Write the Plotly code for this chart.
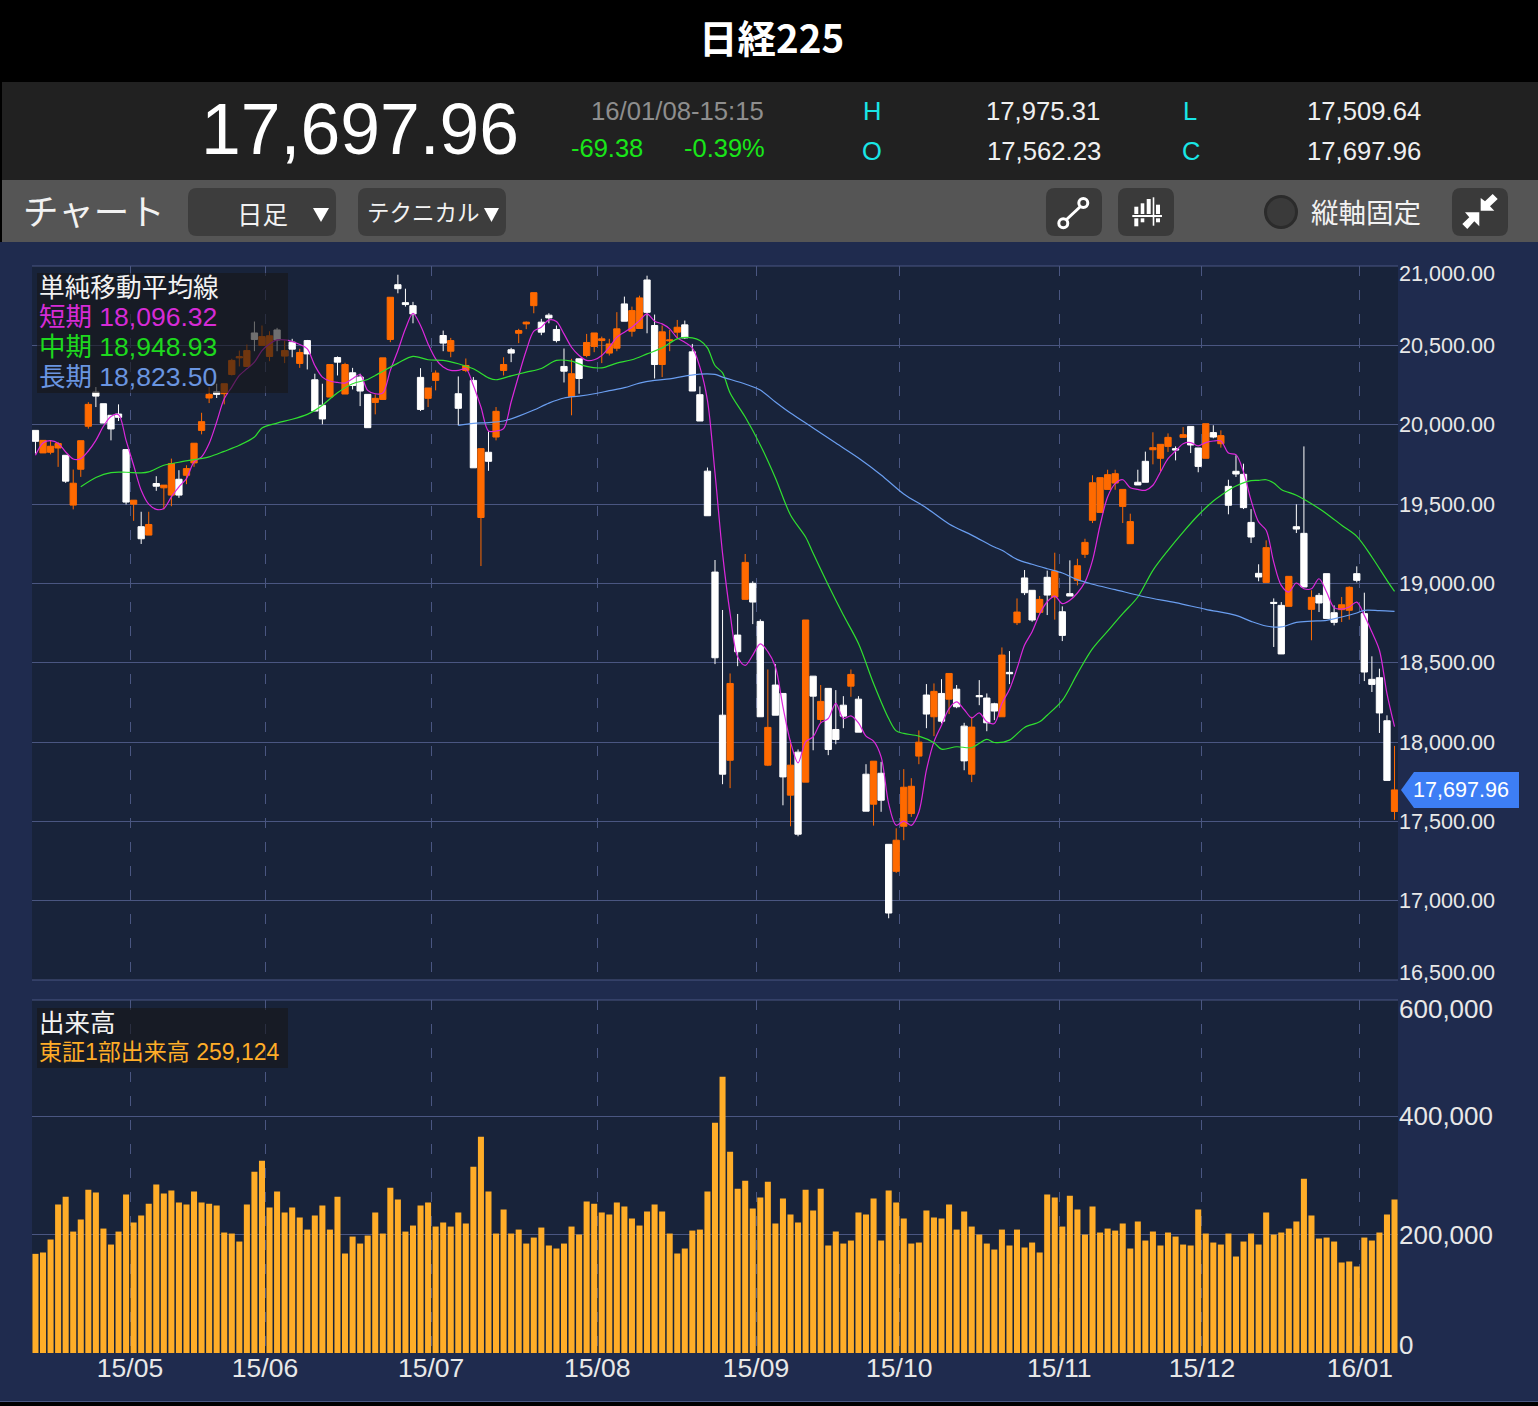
import plotly.graph_objects as go

# ---------- data ----------
opens = [19964,19822,19826,19853,19807,19493,19719,19990,20205,20132,
20059,20067,19843,19499,19357,19304,19629,19602,19556,19656,
19681,19759,19964,20168,20207,20195,20316,20421,20367,20578,
20499,20430,20597,20432,20520,20386,20530,20283,20122,20174,
20423,20193,20327,20300,20191,20140,20159,20537,20882,20769,
20750,20298,20166,20279,20562,20463,20195,20342,20279,19415,
19826,19922,20342,20472,20576,20635,20750,20646,20690,20600,
20367,20178,20415,20436,20493,20530,20451,20482,20761,20589,
20606,20912,20625,20379,20528,20583,20629,20459,20189,19707,
19071,18169,17885,18674,18899,19000,18760,17854,18359,18306,
17665,17936,17747,18415,18142,18338,18079,18232,18352,18270,
17797,17608,17803,17355,17185,17469,17549,17911,18296,18159,
18306,18270,18333,18100,17797,18293,18277,18241,18159,18439,
18752,19034,18956,18817,19038,18914,18821,18935,19019,19183,
19397,19447,19592,19632,19485,19250,19637,19769,19842,19788,
19863,19849,19920,19989,19853,19788,19950,19880,19611,19706,
19687,19384,19063,19006,18880,18861,18855,19357,19315,18836,
18924,19061,18815,18834,18830,19061,18809,18395,18405,18134,
17562.23]
highs = [19964,19901,19901,19891,19807,19717,19899,20142,20237,20132,
20059,20128,19843,19524,19451,19451,19675,19619,19786,19713,
19744,19883,20075,20237,20258,20258,20415,20467,20505,20650,
20625,20589,20610,20530,20541,20478,20534,20321,20258,20379,
20430,20390,20358,20321,20191,20191,20421,20803,20945,20857,
20774,20356,20231,20342,20593,20547,20304,20417,20300,19849,
19958,20111,20425,20484,20604,20650,20832,20667,20702,20625,
20480,20415,20415,20572,20578,20555,20541,20709,20807,20744,
20813,20939,20694,20625,20597,20660,20656,20509,20241,19730,
19147,18832,18432,18807,19185,19013,18773,18457,18491,18306,
18012,17953,18769,18415,18359,18338,18327,18289,18457,18289,
17860,17879,17875,17355,17456,17829,17772,18073,18365,18369,
18396,18432,18359,18121,18159,18390,18306,18247,18596,18573,
18905,19084,18956,18920,19080,19193,18855,19145,19155,19281,
19681,19666,19716,19716,19592,19439,19716,19830,19952,19876,
19945,19863,19985,19989,19853,20006,19996,19964,19653,19807,
19754,19468,19120,19271,18905,18882,19044,19498,19863,18956,
18939,19061,18861,18914,18981,19107,18941,18540,18462,18168,
17975.31]
lows = [19818,19822,19813,19734,19633,19466,19671,19975,20111,20010,
19901,20023,19497,19394,19248,19304,19583,19466,19486,19539,
19625,19734,19939,20136,20168,20128,20310,20367,20363,20463,
20499,20400,20463,20388,20425,20358,20348,20086,20002,20174,
20310,20193,20222,20117,19981,20065,20159,20520,20828,20744,
20639,20086,20111,20216,20463,20425,19996,20331,19728,19109,
19709,19901,20310,20394,20514,20602,20702,20564,20639,20518,
20266,20059,20195,20425,20457,20388,20436,20463,20652,20555,
20606,20576,20291,20300,20463,20541,20541,20212,20023,19426,
18491,17734,17709,18478,18899,18743,18159,17848,18169,17601,
17469,17406,17747,17948,18121,17917,17986,18087,18285,18062,
17564,17473,17560,16889,17175,17381,17528,17860,18087,18037,
18117,18176,18213,17822,17747,18232,18068,18138,18159,18365,
18737,18926,18758,18807,18800,18771,18636,18920,18987,19160,
19380,19447,19592,19590,19380,19250,19620,19637,19750,19708,
19828,19775,19920,19821,19700,19788,19914,19855,19435,19670,
19468,19254,19013,19006,18599,18555,18855,19317,18977,18641,
18819,18779,18735,18756,18771,19006,18384,18315,18057,17758,
17509.64]
closes = [19895,19901,19864,19881,19644,19631,19899,20128,20180,20010,
19973,20046,19512,19524,19281,19371,19612,19619,19755,19556,
19723,19883,20019,20191,20191,20258,20405,20428,20467,20537,
20555,20560,20534,20467,20476,20455,20446,20086,20036,20379,
20394,20379,20247,20212,19981,20166,20421,20803,20857,20757,
20698,20096,20231,20325,20514,20530,20103,20373,19728,19849,
19769,20084,20379,20451,20593,20646,20832,20583,20673,20530,
20337,20321,20291,20518,20578,20541,20509,20604,20652,20719,
20799,20708,20379,20585,20534,20614,20547,20212,20023,19426,
18531,17797,18369,18569,19132,18882,18159,18092,18169,17780,
17854,17419,18769,18289,18256,17953,18016,18163,18426,18062,
17564,17879,17633,16922,17381,17715,17721,17999,18176,18319,
18131,18432,18222,17881,18094,18285,18121,18195,18548,18430,
18819,18941,18769,18899,18926,19076,18672,18920,19111,19258,
19634,19666,19685,19691,19592,19389,19620,19637,19855,19876,
19920,19840,19937,19872,19737,20006,19922,19931,19492,19689,
19477,19292,19040,19225,18874,18555,19044,19342,18977,18912,
18876,18779,18754,18865,18975,19019,18441,18363,18183,17758,
17697.96]
volumes = [167400,169700,191600,250600,264000,205000,225300,275800,270800,210100,
183100,205000,267400,220200,232000,252200,284300,269100,274200,253900,
250600,272500,253900,252200,248900,203400,201700,188200,250600,306200,
324700,245500,272500,237100,245500,228700,208400,232000,248900,208400,
264000,168000,196600,184800,198300,237100,201700,279200,259000,205000,
215200,248900,253900,213500,220200,213500,237100,218500,314600,365200,
272500,201700,242100,201700,208400,184800,194900,211800,181500,176400,
184800,213500,200000,255600,252200,237100,233700,253900,247200,227000,
215200,238800,250600,238800,201700,168000,176400,206700,208400,272500,
388800,466300,339900,277500,291000,243800,262400,289300,218500,260700,
233700,220200,275800,240500,277500,181500,205100,184800,189900,237100,
233700,260700,189900,274200,253900,227000,184800,186500,240500,228700,
227000,250600,208400,238800,213500,200000,184800,174700,208400,181500,
208400,178100,186500,169700,267400,262400,213500,265700,242100,200000,
247200,203400,210100,206700,218500,176400,221900,189900,205100,181500,
203400,196600,183100,181500,242100,201700,186500,183100,201700,162900,
188200,201700,183100,237100,200000,203400,210100,221900,294400,232000,
193300,194900,188200,152800,154500,146100,194900,189900,203400,233700,
259124]
short_ma = [19807,19885,19899,19883,19828,19784,19786,19834,19901,19990,
20052,20063,19901,19744,19587,19499,19466,19472,19545,19608,
19660,19765,19797,19881,20017,20163,20237,20310,20352,20394,
20467,20509,20534,20534,20524,20505,20478,20373,20300,20275,
20266,20262,20289,20316,20216,20195,20199,20342,20467,20604,
20702,20625,20509,20415,20363,20342,20342,20352,20247,20111,
19960,19960,19975,20143,20310,20467,20589,20614,20660,20650,
20572,20488,20436,20405,20409,20436,20488,20551,20583,20614,
20656,20698,20652,20635,20604,20547,20520,20484,20363,20153,
19695,19189,18811,18537,18483,18548,18619,18569,18474,18222,
18001,17869,18001,18033,18121,18148,18243,18148,18165,18121,
18037,18005,17906,17612,17475,17501,17475,17559,17822,18001,
18106,18211,18253,18205,18152,18184,18127,18117,18243,18331,
18464,18611,18695,18807,18884,18920,18872,18893,18939,19008,
19145,19366,19544,19628,19653,19603,19592,19586,19618,19702,
19786,19834,19880,19887,19866,19887,19897,19897,19821,19811,
19702,19523,19387,19334,19134,18987,18945,19002,18966,18966,
19029,18945,18847,18838,18851,18882,18798,18693,18578,18305,
18096.32]
mid_days = [6,8,10,12,14,15,17,19,21,23,25,27,29,30,32,34,36,37,38,40,42,44,45,46,48,50,52,54,56,58,60,61,63,65,67,69,71,73,75,77,79,81,83,85,87,88,89,90,91,92,94,96,98,100,102,103,105,107,109,111,113,114,115,117,119,120,122,124,126,127,129,131,133,134,136,138,140,142,144,146,148,150,152,154,156,157,159,161,162,163,164,165,167,169,171,173,175,177,179,180]
mid_ma = [19608,19667,19698,19700,19696,19702,19744,19763,19780,19797,19832,19870,19922,19979,20010,20034,20065,20090,20122,20201,20258,20285,20310,20337,20388,20430,20409,20405,20384,20352,20295,20283,20308,20331,20354,20405,20400,20367,20358,20388,20409,20446,20484,20541,20547,20530,20484,20373,20326,20200,20048,19872,19664,19431,19292,19189,18989,18800,18621,18369,18148,18070,18054,18037,17995,17955,17970,17965,18016,17997,18012,18092,18127,18169,18262,18431,18588,18699,18809,18914,19082,19208,19323,19429,19519,19554,19613,19647,19649,19653,19632,19592,19555,19502,19439,19366,19296,19166,19019,18948.93]
long_days = [56,58,60,62,64,66,68,70,72,74,76,78,80,82,84,86,88,90,91,94,96,98,100,103,106,109,112,115,118,121,124,127,128,130,132,134,136,138,140,143,147,151,155,159,161,163,165,167,169,171,173,175,176,178,180]
long_ma = [19996,20008,20013,20023,20054,20092,20136,20168,20180,20195,20214,20233,20262,20279,20289,20306,20319,20317,20300,20256,20218,20143,20073,19979,19884,19790,19683,19563,19475,19374,19304,19229,19208,19151,19120,19092,19065,19023,18994,18960,18914,18878,18836,18798,18760,18731,18725,18754,18762,18767,18788,18813,18830,18828,18823.50]
month_labels = ["15/05","15/06","15/07","15/08","15/09","15/10","15/11","15/12","16/01"]
month_days = [12.52,30.4,52.4,74.4,95.43,114.4,135.6,154.5,175.4]
price_ticks = [21000,20500,20000,19500,19000,18500,18000,17500,17000,16500]
volume_ticks = [400000,200000]
days = list(range(len(opens)))

# ---------- helpers: page pixels to paper fractions ----------
W, H = 1538, 1406
FX = lambda p: p / W
FY = lambda p: 1 - p / H
LAT = "Liberation Sans, Noto Sans CJK JP, sans-serif"
CJK = "Noto Sans CJK JP, Liberation Sans, sans-serif"
ORANGE, WHITE = "#ff6a00", "#ffffff"
GRID = "#4a5681"
NAVY = "#1f2b4e"
PANEL = "#18233a"

shapes, notes = [], []

def rect(x0, y0, x1, y1, color, layer="below"):
    shapes.append(dict(type="rect", xref="paper", yref="paper", x0=FX(x0), x1=FX(x1),
                       y0=FY(y1), y1=FY(y0), fillcolor=color, line_width=0, layer=layer))

def poly(points, color=None, layer="above", line=None, close=True, width=0):
    d = "M" + " L".join(f"{FX(a):.5f},{FY(b):.5f}" for a, b in points) + (" Z" if close else "")
    shapes.append(dict(type="path", xref="paper", yref="paper", path=d, fillcolor=color,
                       line=dict(color=line or "rgba(0,0,0,0)", width=width), layer=layer))

def rrect(x0, y0, x1, y1, r, color, layer="below"):
    p = lambda a, b: f"{FX(a):.5f},{FY(b):.5f}"
    d = (f"M{p(x0+r,y0)} L{p(x1-r,y0)} Q{p(x1,y0)} {p(x1,y0+r)} L{p(x1,y1-r)} Q{p(x1,y1)} {p(x1-r,y1)} "
         f"L{p(x0+r,y1)} Q{p(x0,y1)} {p(x0,y1-r)} L{p(x0,y0+r)} Q{p(x0,y0)} {p(x0+r,y0)} Z")
    shapes.append(dict(type="path", xref="paper", yref="paper", path=d, fillcolor=color,
                       line_width=0, layer=layer))

def circle(cx, cy, r, fill, line=None, width=0, layer="above"):
    shapes.append(dict(type="circle", xref="paper", yref="paper", x0=FX(cx-r), x1=FX(cx+r),
                       y0=FY(cy+r), y1=FY(cy-r), fillcolor=fill,
                       line=dict(color=line or "rgba(0,0,0,0)", width=width), layer=layer))

def text(x, y, s, size, color="#ffffff", anchor="left", family=LAT, bold=False):
    notes.append(dict(xref="paper", yref="paper", x=FX(x), y=FY(y), text=f"<b>{s}</b>" if bold else s,
                      showarrow=False, xanchor=anchor, yanchor="middle", borderpad=0,
                      font=dict(size=size, color=color, family=family)))

# ---------- page chrome ----------
rect(0, 0, W, 82, "#000000")
rect(0, 82, W, 180, "#212121")
rect(0, 180, W, 242, "#555555")
rect(0, 82, 2, 242, "#000000")
rect(0, 242, W, 1401, NAVY)
rect(0, 1401, W, 1402, GRID)
rect(0, 1402, W, 1406, "#000000")
rect(32, 266, 1398, 980, PANEL)
rect(32, 1000, 1398, 1353, PANEL)
# panel edge rules that the axes leave out
rect(32, 265.5, 1398, 266.5, GRID)
rect(32, 979.5, 1398, 980.5, GRID)
rect(32, 999.5, 1398, 1000.5, GRID)

text(771, 36, "日経225", 38.5, anchor="center", family=CJK, bold=True)
text(360, 129, "17,697.96", 71.5, anchor="center")
text(677, 111, "16/01/08-15:15", 25.7, "#8e8e8e", "center")
text(607, 148, "-69.38", 25.5, "#19e619", "center")
text(724, 148, "-0.39%", 25.5, "#19e619", "center")
for x, y, s in [(872, 111, "H"), (872, 151, "O"), (1190, 111, "L"), (1191, 151, "C")]:
    text(x, y, s, 25.5, "#19e6e6", "center")
for x, y, s in [(1101, 111, "17,975.31"), (1102, 151, "17,562.23"), (1422, 111, "17,509.64"), (1422, 151, "17,697.96")]:
    text(x, y, s, 25.7, "#f0f0f0", "right")

text(22, 209, "チャート", 35.5, "#f2f2f2", family=CJK)
rrect(188, 188, 336, 236, 9, "#3d3d3d")
rrect(358, 188, 506, 236, 9, "#3d3d3d")
for x0 in (1046, 1118, 1452):
    rrect(x0, 188, x0 + 56, 236, 9, "#3a3a3a")
text(262, 213, "日足", 25.5, "#f2f2f2", "center", family=CJK)
text(423, 211, "テクニカル", 22.5, "#f2f2f2", "center", family=CJK)
poly([(313, 208), (329, 208), (321, 222)], "#ffffff")
poly([(484, 208), (499, 208), (491.5, 222)], "#ffffff")
# line tool icon
poly([(1066, 220), (1081, 206)], line="#ffffff", close=False, width=3)
circle(1063.3, 223.3, 4.5, "#3a3a3a", "#ffffff", 3)
circle(1083.3, 203, 4.5, "#3a3a3a", "#ffffff", 3)
# indicator icon
for x0, y0, x1, y1 in [(1134.3, 206.7, 1138.3, 214), (1140.7, 203.3, 1144.3, 214), (1146.7, 199, 1150.7, 214),
                       (1152.7, 197.3, 1154.3, 225.7), (1156, 204.7, 1160, 214), (1132.3, 215, 1162, 217),
                       (1134.3, 218.3, 1138.3, 226.3), (1140.7, 218.3, 1144.3, 222.3), (1156, 218.3, 1160, 222.3)]:
    rect(x0, y0, x1, y1, "#ffffff", "above")
circle(1281, 212, 15.5, "#3a3a3a", "#2b2b2b", 3)
text(1310, 211, "縦軸固定", 27.5, "#f2f2f2", family=CJK)
# collapse icon
poly([(1480.7, 198), (1485, 201.3), (1492.7, 194), (1497.7, 199), (1490, 206.3), (1494.3, 210.7), (1480.7, 210.7)], "#ffffff")
poly([(1465, 212.3), (1469.3, 217.3), (1462.3, 224), (1467.3, 229), (1474.3, 221.3), (1479.3, 226.3), (1479.3, 212.3)], "#ffffff")

# price and volume end labels sit inside their panels
text(1398, 274, "21,000.00", 21.6, "#e8e8e8")
text(1398, 972, "16,500.00", 21.6, "#e8e8e8")
text(1398, 1009, "600,000", 26, "#e8e8e8")
text(1398, 1345, "0", 26, "#e8e8e8")

# indicator legends, drawn over the candles
rect(37, 273, 288, 393, "rgba(22,22,24,0.62)", "above")
rect(37, 1008, 288, 1068, "rgba(22,22,24,0.62)", "above")
text(38, 285, "単純移動平均線", 25.7, "#f2f2f2", family=CJK)
text(38, 317, "短期 18,096.32", 26.5, "#d62bd6")
text(38, 347, "中期 18,948.93", 26.5, "#1ed81e")
text(38, 377, "長期 18,823.50", 26.5, "#6a95e0")
text(38, 1020, "出来高", 25.5, "#f2f2f2", family=CJK)
text(38, 1052, "東証1部出来高 259,124", 23, "#ffad28")

# last price flag
poly([(1401, 790), (1414, 772), (1519, 772), (1519, 808), (1414, 808)], "#3d7ef5")
text(1461, 790, "17,697.96", 21.6, "#ffffff", "center")

# ---------- marks ----------
fig = go.Figure()
fig.add_trace(go.Candlestick(
    x=days, open=opens, high=highs, low=lows, close=closes, whiskerwidth=0, showlegend=False,
    increasing=dict(line=dict(color=ORANGE, width=1), fillcolor=ORANGE),
    decreasing=dict(line=dict(color=WHITE, width=1), fillcolor=WHITE),
    xaxis="x", yaxis="y"))
for name, xs, ys, color in [("短期", days, short_ma, "#dc28dc"),
                            ("中期", mid_days, mid_ma, "#30e030"),
                            ("長期", long_days, long_ma, "#6a9ef0")]:
    fig.add_trace(go.Scatter(x=xs, y=ys, mode="lines", name=name, showlegend=False,
                             line=dict(color=color, width=1.2, shape="spline", smoothing=0.9),
                             xaxis="x", yaxis="y"))
fig.add_trace(go.Bar(x=days, y=volumes, marker=dict(color="#ffad28", line_width=0), showlegend=False,
                     xaxis="x2", yaxis="y2"))

# ---------- layout ----------
x_dom = [FX(32), FX(1398)]
x_rng = [-0.46, 180.46]
common_x = dict(domain=x_dom, range=x_rng, tickmode="array", tickvals=month_days, showline=False,
                showgrid=True, gridcolor=GRID, griddash="10px,14px", gridwidth=1, zeroline=False, ticks="")
fig.update_layout(
    width=W, height=H, autosize=False, margin=dict(l=0, r=0, t=0, b=0), paper_bgcolor=NAVY,
    plot_bgcolor=PANEL, shapes=shapes, annotations=notes, bargap=0.2, boxgap=0.17, boxgroupgap=0, showlegend=False,
    hovermode=False,
    xaxis=dict(**common_x, showticklabels=False, anchor="y", rangeslider=dict(visible=False)),
    xaxis2=dict(**common_x, ticktext=month_labels, showticklabels=True, anchor="y2",
                tickfont=dict(size=26.5, color="#e8e8e8", family=LAT), ticklabelstandoff=-4),
    yaxis=dict(domain=[FY(980), FY(266)], range=[16500, 21000], anchor="x", side="right", tickmode="array",
               tickvals=price_ticks, ticktext=[""] + [f"{v:,}.00" for v in price_ticks[1:-1]] + [""],
               tickfont=dict(size=21.6, color="#e8e8e8", family=LAT), gridcolor=GRID, gridwidth=1,
               zeroline=False, showline=False, ticks=""),
    yaxis2=dict(domain=[FY(1353), FY(1000)], range=[0, 596000], anchor="x2", side="right", tickmode="array",
                tickvals=volume_ticks, ticktext=[f"{v:,}" for v in volume_ticks],
                tickfont=dict(size=26, color="#e8e8e8", family=LAT), gridcolor=GRID, gridwidth=1,
                zeroline=False, showline=False, ticks=""),
)
fig.write_html("out.html", config=dict(displayModeBar=False),
               post_script="document.body.style.margin='0';document.body.style.overflow='hidden';")
